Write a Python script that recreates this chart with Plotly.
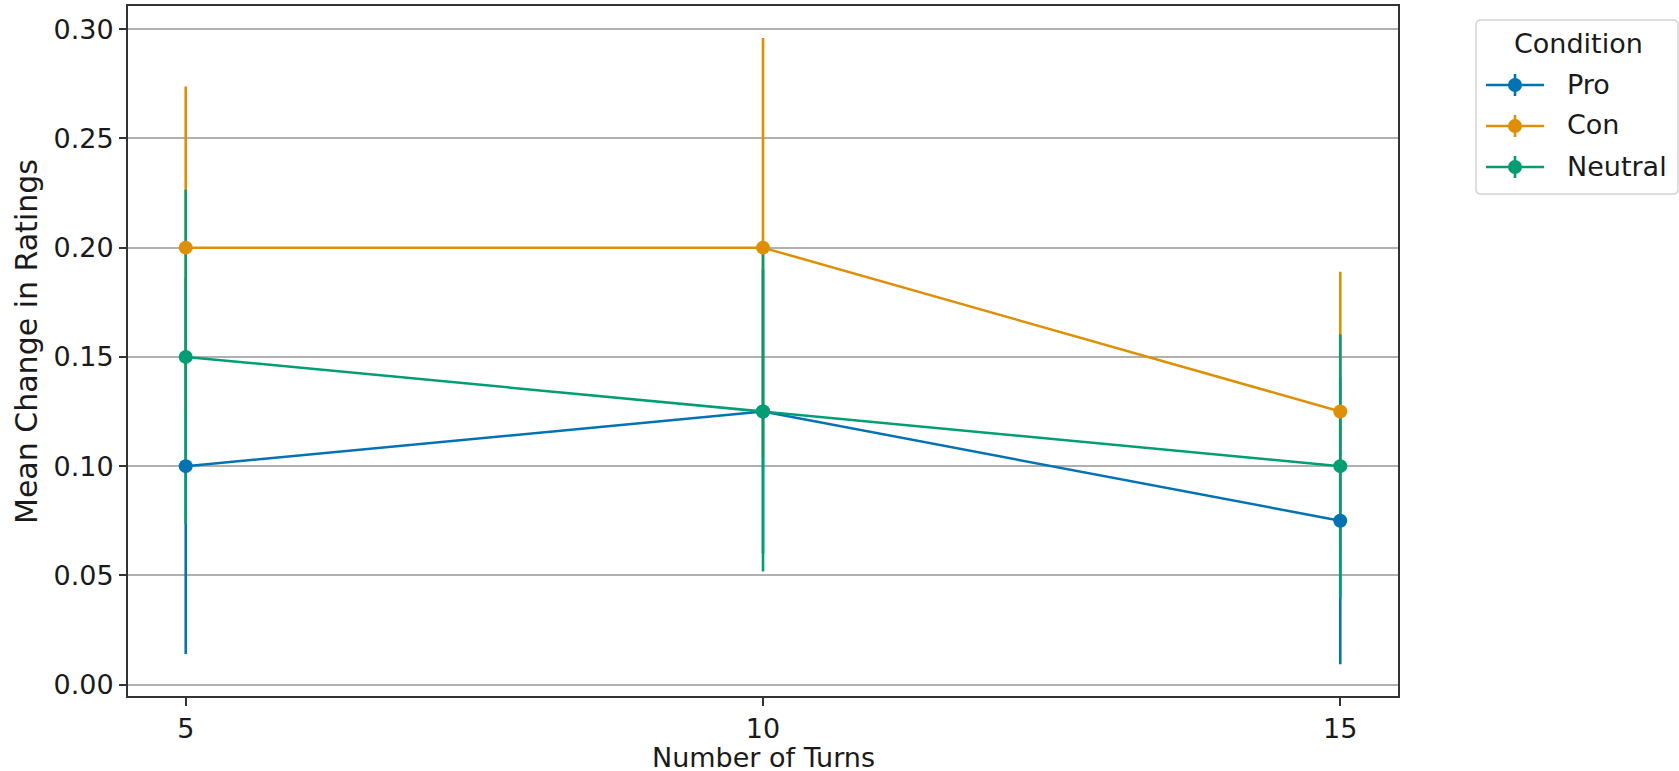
import plotly.graph_objects as go

# Mean change in ratings by number of turns, per condition
turns = [5, 10, 15]
conditions = ["Pro", "Con", "Neutral"]
mean_change = {
    "Pro": [0.100, 0.125, 0.075],
    "Con": [0.200, 0.200, 0.125],
    "Neutral": [0.150, 0.125, 0.100],
}
error = {
    "Pro": [0.086, 0.065, 0.0657],
    "Con": [0.0737, 0.096, 0.064],
    "Neutral": [0.0765, 0.0732, 0.0604],
}
colors = {"Pro": "#0173b2", "Con": "#de8f05", "Neutral": "#029e73"}

y_ticks = [0.00, 0.05, 0.10, 0.15, 0.20, 0.25, 0.30]

FONT = "DejaVu Sans"
W, H = 1679, 771
M_L, M_R, M_T, M_B = 128, 281, 6, 75
PLOT_W = W - M_L - M_R
PLOT_H = H - M_T - M_B


def px_x(px):
    """Pixel column -> paper x (relative to the plot area)."""
    return (px - M_L) / PLOT_W


def px_y(py):
    """Pixel row (from the top) -> paper y."""
    return (H - M_B - py) / PLOT_H


fig = go.Figure()

# error bars first so every line and marker sits above them
for c in conditions:
    fig.add_trace(go.Scatter(
        x=turns, y=mean_change[c], mode="markers",
        marker=dict(size=1, opacity=0, color=colors[c]),
        error_y=dict(type="data", array=error[c], symmetric=True,
                     color=colors[c], thickness=2.6, width=0),
        showlegend=False, hoverinfo="skip",
    ))

for c in conditions:
    fig.add_trace(go.Scatter(
        x=turns, y=mean_change[c], mode="lines+markers", name=c,
        line=dict(color=colors[c], width=2.5),
        marker=dict(color=colors[c], size=14),
        showlegend=False,
    ))

# legend box with the condition key, placed right of the axes
shapes = []
annotations = []
bx0, bx1, by0, by1, r = 1476, 1678, 20, 194, 5
box_path = (
    f"M {px_x(bx0 + r)},{px_y(by0)} L {px_x(bx1 - r)},{px_y(by0)} "
    f"Q {px_x(bx1)},{px_y(by0)} {px_x(bx1)},{px_y(by0 + r)} "
    f"L {px_x(bx1)},{px_y(by1 - r)} "
    f"Q {px_x(bx1)},{px_y(by1)} {px_x(bx1 - r)},{px_y(by1)} "
    f"L {px_x(bx0 + r)},{px_y(by1)} "
    f"Q {px_x(bx0)},{px_y(by1)} {px_x(bx0)},{px_y(by1 - r)} "
    f"L {px_x(bx0)},{px_y(by0 + r)} "
    f"Q {px_x(bx0)},{px_y(by0)} {px_x(bx0 + r)},{px_y(by0)} Z"
)
shapes.append(dict(type="path", xref="paper", yref="paper", path=box_path,
                   line=dict(color="#d4d4d4", width=1.5), fillcolor="white",
                   layer="above"))
annotations.append(dict(
    text="Condition", xref="paper", yref="paper",
    x=px_x(1578), y=px_y(44), xanchor="center", yanchor="middle",
    showarrow=False, font=dict(family=FONT, size=27, color="#1a1a1a"),
))

row_y = [85, 126, 167]
for c, ry in zip(conditions, row_y):
    col = colors[c]
    shapes.append(dict(type="line", xref="paper", yref="paper",
                       x0=px_x(1486), x1=px_x(1544), y0=px_y(ry), y1=px_y(ry),
                       line=dict(color=col, width=2.6), layer="above"))
    shapes.append(dict(type="line", xref="paper", yref="paper",
                       x0=px_x(1515), x1=px_x(1515),
                       y0=px_y(ry - 11), y1=px_y(ry + 11),
                       line=dict(color=col, width=2.6), layer="above"))
    shapes.append(dict(type="circle", xref="paper", yref="paper",
                       xsizemode="pixel", ysizemode="pixel",
                       xanchor=px_x(1515), yanchor=px_y(ry),
                       x0=-7, x1=7, y0=-7, y1=7,
                       line=dict(width=0), fillcolor=col, layer="above"))
    annotations.append(dict(
        text=c, xref="paper", yref="paper",
        x=px_x(1565), y=px_y(ry - 1), xanchor="left", yanchor="middle",
        showarrow=False, font=dict(family=FONT, size=27, color="#1a1a1a"),
    ))

# axis titles
annotations.append(dict(
    text="Number of Turns", xref="paper", yref="paper",
    x=0.5, y=px_y(757), xanchor="center", yanchor="middle", height=28,
    showarrow=False, font=dict(family=FONT, size=27, color="#1a1a1a"),
))
annotations.append(dict(
    text="Mean Change in Ratings", xref="paper", yref="paper",
    x=px_x(26), y=px_y(342), xanchor="center", yanchor="middle",
    textangle=-90, showarrow=False,
    font=dict(family=FONT, size=30, color="#1a1a1a"),
))

fig.update_layout(
    width=W, height=H,
    margin=dict(l=M_L, r=M_R, t=M_T, b=M_B, autoexpand=False),
    paper_bgcolor="white", plot_bgcolor="white",
    font=dict(family=FONT, size=27, color="#1a1a1a"),
    showlegend=False,
    shapes=shapes, annotations=annotations,
)

fig.update_xaxes(
    range=[4.5, 15.5], tickvals=turns, ticktext=[str(t) for t in turns],
    showgrid=False, zeroline=False, automargin=False,
    showline=True, linecolor="#333333", linewidth=2, mirror=True,
    ticks="outside", ticklen=8, tickwidth=2, tickcolor="#333333",
)
fig.update_yaxes(
    range=[-0.0052, 0.3106], tickvals=y_ticks, tickformat=".2f",
    showgrid=True, gridcolor="#b0b0b0", gridwidth=1.5, zeroline=False,
    automargin=False,
    showline=True, linecolor="#333333", linewidth=2, mirror=True,
    ticks="outside", ticklen=7, tickwidth=2, tickcolor="#333333",
)

fig.write_html("out.html")
